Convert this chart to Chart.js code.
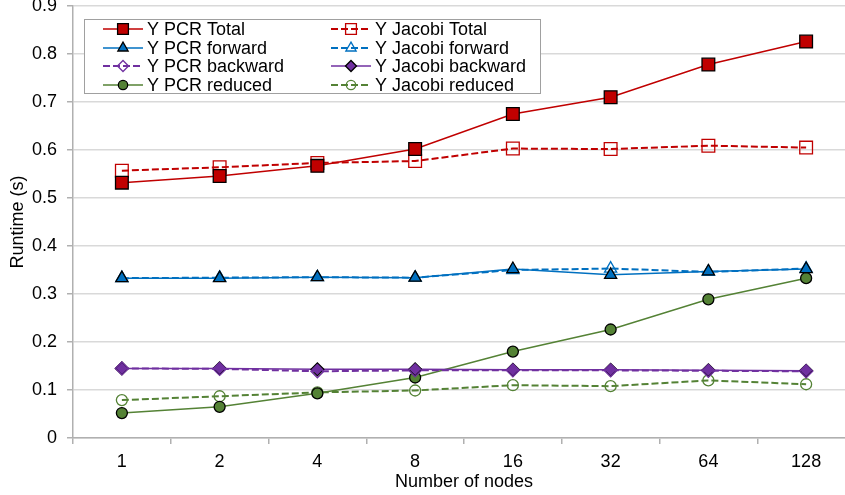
<!DOCTYPE html>
<html>
<head>
  <meta charset="UTF-8">
  <title>Runtime vs nodes</title>
  <script src="https://cdn.jsdelivr.net/npm/chart.js"></script>
  <style>
    html, body { margin: 0; padding: 0; background: #fff; overflow: hidden; }
    .wrap { width: 856px; height: 495px; }
  </style>
</head>
<body>
  <div class="wrap"><canvas id="chart" width="856" height="495"></canvas></div>
  <script>
    // data
    const nodes = ['1', '2', '4', '8', '16', '32', '64', '128'];
    const pcrTotal     = [0.532, 0.546, 0.567, 0.602, 0.675, 0.710, 0.778, 0.826];
    const jacobiTotal  = [0.557, 0.564, 0.573, 0.577, 0.603, 0.602, 0.609, 0.605];
    const pcrForward   = [0.333, 0.333, 0.335, 0.334, 0.352, 0.340, 0.347, 0.352];
    const jacobiForward= [0.333, 0.334, 0.335, 0.334, 0.350, 0.353, 0.346, 0.353];
    const pcrBackward  = [0.145, 0.144, 0.139, 0.141, 0.141, 0.141, 0.140, 0.139];
    const jacobiBackward=[0.145, 0.145, 0.143, 0.143, 0.142, 0.142, 0.141, 0.140];
    const pcrReduced   = [0.052, 0.065, 0.093, 0.126, 0.180, 0.226, 0.289, 0.333];
    const jacobiReduced= [0.079, 0.087, 0.095, 0.099, 0.110, 0.108, 0.120, 0.112];
    const yTicks = [0, 0.1, 0.2, 0.3, 0.4, 0.5, 0.6, 0.7, 0.8, 0.9];

    const RED = '#C00000', BLUE = '#0070C0', PURPLE = '#7030A0', GREEN = '#548235';
    const FONT = 'Liberation Sans, Arial, sans-serif';

    function series(label, data, color, style, radius, filled, dashed) {
      return {
        label: label,
        data: data,
        borderColor: color,
        borderWidth: dashed ? 2 : 1.5,
        borderDash: dashed ? [7, 3] : [],
        pointStyle: style,
        pointRadius: radius,
        pointBackgroundColor: filled ? color : 'rgba(255,255,255,0)',
        pointBorderColor: filled ? '#000' : color,
        pointBorderWidth: 1.3,
        fill: false,
        tension: 0
      };
    }

    const datasets = [
      series('Y PCR Total', pcrTotal, RED, 'rect', 9, true, false),
      series('Y Jacobi Total', jacobiTotal, RED, 'rect', 9, false, true),
      series('Y PCR forward', pcrForward, BLUE, 'triangle', 7, true, false),
      series('Y Jacobi forward', jacobiForward, BLUE, 'triangle', 7, false, true),
      series('Y PCR backward', pcrBackward, PURPLE, 'rectRot', 6.5, false, true),
      series('Y Jacobi backward', jacobiBackward, PURPLE, 'rectRot', 6.5, true, false),
      series('Y PCR reduced', pcrReduced, GREEN, 'circle', 5.5, true, false),
      series('Y Jacobi reduced', jacobiReduced, GREEN, 'circle', 5.5, false, true)
    ];

    // legend box in two columns, like the original
    const boxLegend = {
      id: 'boxLegend',
      afterDatasetsDraw(chart) {
        const ctx = chart.ctx;
        const box = { x: 84, y: 19, w: 456, h: 74 };
        ctx.save();
        ctx.fillStyle = '#fff';
        ctx.fillRect(box.x, box.y, box.w, box.h);
        ctx.strokeStyle = '#a0a0a0';
        ctx.lineWidth = 1;
        ctx.strokeRect(box.x + 0.5, box.y + 0.5, box.w, box.h);
        const cols = [103, 331];
        const rows = [29, 48, 66, 85];
        chart.data.datasets.forEach((ds, i) => {
          const x0 = cols[i % 2];
          const y = rows[Math.floor(i / 2)];
          ctx.strokeStyle = ds.borderColor;
          ctx.lineWidth = ds.borderWidth;
          ctx.setLineDash(ds.borderDash);
          ctx.beginPath();
          ctx.moveTo(x0, y);
          ctx.lineTo(x0 + 40, y);
          ctx.stroke();
          ctx.setLineDash([]);
          ctx.fillStyle = ds.pointBackgroundColor;
          ctx.strokeStyle = ds.pointBorderColor;
          ctx.lineWidth = ds.pointBorderWidth;
          Chart.helpers.drawPoint(ctx, {
            pointStyle: ds.pointStyle,
            radius: ds.pointRadius * 0.85,
            rotation: 0,
            borderWidth: ds.pointBorderWidth
          }, x0 + 20, y);
          ctx.fillStyle = '#000';
          ctx.font = '18px ' + FONT;
          ctx.textBaseline = 'middle';
          ctx.textAlign = 'left';
          ctx.fillText(ds.label, x0 + 44, y + 1);
        });
        ctx.restore();
      }
    };

    const bgPlugin = {
      id: 'bg',
      beforeDraw(chart) {
        const ctx = chart.ctx;
        ctx.save();
        ctx.fillStyle = '#fff';
        ctx.fillRect(0, 0, chart.width, chart.height);
        ctx.restore();
      }
    };

    new Chart(document.getElementById('chart').getContext('2d'), {
      type: 'line',
      data: { labels: nodes, datasets: datasets },
      plugins: [bgPlugin, boxLegend],
      options: {
        responsive: false,
        animation: false,
        events: [],
        layout: { autoPadding: false, padding: { top: 6, right: 1, left: 0, bottom: 0 } },
        plugins: { legend: { display: false }, tooltip: { enabled: false } },
        scales: {
          x: {
            offset: true,
            afterFit(scale) {
              scale.height = 57;
              scale.paddingLeft = 0;
              scale.paddingRight = 0;
            },
            grid: {
              offset: true,
              drawOnChartArea: false,
              tickLength: 6,
              tickColor: '#b0b0b0',
              lineWidth: 1.5
            },
            border: { color: '#b0b0b0', width: 1.5 },
            ticks: { color: '#000', font: { family: FONT, size: 18 }, padding: 7 },
            title: {
              display: true,
              text: 'Number of nodes',
              color: '#000',
              font: { family: FONT, size: 18 },
              padding: { top: 2, bottom: 2 }
            }
          },
          y: {
            min: 0,
            max: 0.9,
            afterFit(scale) {
              scale.width = 73;
              scale.paddingTop = 0;
              scale.paddingBottom = 0;
            },
            afterBuildTicks(scale) { scale.ticks = yTicks.map(v => ({ value: v })); },
            grid: {
              color: '#d9d9d9',
              lineWidth: 1.5,
              tickLength: 6,
              tickColor: '#b0b0b0'
            },
            border: { color: '#b0b0b0', width: 1.5 },
            ticks: {
              color: '#000',
              font: { family: FONT, size: 18 },
              padding: 10,
              callback: v => String(Math.round(v * 10) / 10)
            },
            title: {
              display: true,
              text: 'Runtime (s)',
              color: '#000',
              font: { family: FONT, size: 18 },
              padding: { top: 7, bottom: 0 }
            }
          }
        }
      }
    });
  </script>
</body>
</html>
